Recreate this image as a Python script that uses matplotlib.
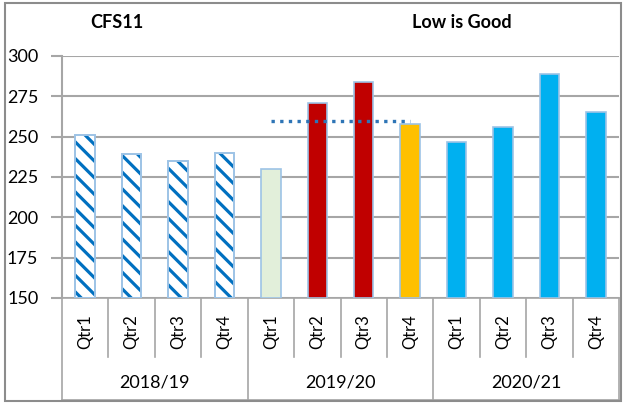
import matplotlib
matplotlib.use("Agg")
import matplotlib.pyplot as plt

# data
years = ["2018/19", "2019/20", "2020/21"]
quarters = ["Qtr1", "Qtr2", "Qtr3", "Qtr4"]
values = [251, 239, 235, 240, 230, 271, 284, 258, 247, 256, 289, 265]
target = [260, 260, 260, 260]  # dotted line over 2019/20
yticks = [150, 175, 200, 225, 250, 275, 300]

fills = ["white"] * 4 + ["#E2EFDA", "#C00000", "#C00000", "#FFC000"] + ["#00B0F0"] * 4
hatched = [True] * 4 + [False] * 8

plt.rcParams["font.family"] = ["Lato", "DejaVu Sans"]
plt.rcParams["hatch.linewidth"] = 2.3

fig = plt.figure(figsize=(6.25, 4.03), dpi=100)
ax = fig.add_axes([62 / 625, 105 / 403, 557 / 625, 242 / 403])

x = list(range(len(values)))
for i, v in enumerate(values):
    if hatched[i]:
        # hatch takes the edge colour, so draw stripes and outline separately
        ax.bar(i, v - 150, bottom=150, width=0.42, color="white", hatch="\\\\",
               edgecolor="#0070C0", linewidth=0, zorder=3)
        ax.bar(i, v - 150, bottom=150, width=0.42, fill=False,
               edgecolor="#9DC3E6", linewidth=1.4, zorder=3)
    else:
        ax.bar(i, v - 150, bottom=150, width=0.42, color=fills[i],
               edgecolor="#9DC3E6", linewidth=1.2, zorder=3)

ax.plot(x[4:8], target, color="#2E75B6", linestyle=(0, (1, 1.6)), linewidth=2.4,
        zorder=4)

ax.set_xlim(-0.5, len(values) - 0.5)
ax.set_ylim(150, 300)
ax.set_yticks(yticks)
ax.set_yticklabels([str(t) for t in yticks], fontsize=13)
ax.tick_params(axis="y", length=8, color="#A6A6A6", width=1.5, pad=9)
ax.set_xticks([])
ax.grid(axis="y", color="#A6A6A6", linewidth=1.5, zorder=0)
for s in ["top", "right", "bottom"]:
    ax.spines[s].set_visible(False)
ax.spines["left"].set_color("#A6A6A6")
ax.spines["left"].set_linewidth(1.5)

# category axis box below the plot
tr = ax.get_xaxis_transform()
line_kw = dict(color="#A6A6A6", linewidth=1.2, clip_on=False, transform=tr)
ax.plot([-0.5, 11.5], [0, 0], **line_kw)
ax.plot([-0.5, 11.5], [-0.422, -0.422], **line_kw)
for i in range(len(values) + 1):
    bottom = -0.422 if i % 4 == 0 else -0.244
    ax.plot([i - 0.5, i - 0.5], [0, bottom], **line_kw)
for i in range(len(values)):
    ax.text(i, -0.14, quarters[i % 4], rotation=90, ha="center", va="center",
            fontsize=12, transform=tr)
for g, yr in enumerate(years):
    ax.text(g * 4 + 1.5, -0.35, yr, ha="center", va="center", fontsize=13,
            transform=tr)

fig.text(117 / 625, 1 - 22 / 403, "CFS11", ha="center", va="center",
         fontsize=13, fontweight="bold")
fig.text(462 / 625, 1 - 22 / 403, "Low is Good", ha="center", va="center",
         fontsize=13, fontweight="bold")

# outer chart border
fig.add_artist(plt.Rectangle((5 / 625, 2 / 403), 616 / 625, 398 / 403,
                             transform=fig.transFigure, fill=False,
                             edgecolor="#8C8C8C", linewidth=1.5))

fig.savefig("out.png", dpi=100)
